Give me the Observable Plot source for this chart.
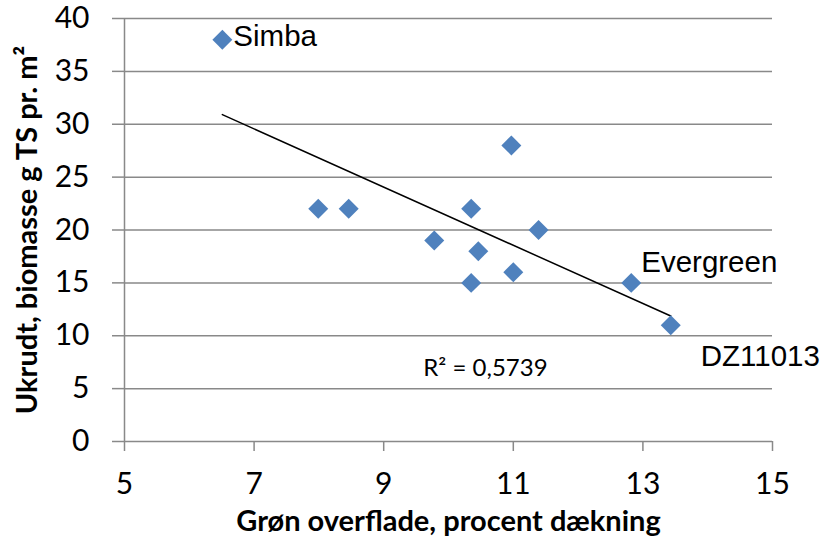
<!DOCTYPE html>
<html><head><meta charset="utf-8">
<script src="https://cdn.jsdelivr.net/npm/d3@7"></script>
<script src="https://cdn.jsdelivr.net/npm/@observablehq/plot@0.6"></script>
<style>body{margin:0;background:#fff} #chart svg{display:block;overflow:visible}</style>
</head><body><div id="chart"></div>
<script>
const cultivars = ["Simba", "", "", "", "", "", "", "", "", "", "Evergreen", "DZ11013"];
const greenCover = [6.51, 7.99, 8.46, 9.78, 10.35, 10.35, 10.46, 10.97, 11.0, 11.39, 12.82, 13.43];
const weedBiomass = [38, 22, 22, 19, 22, 15, 18, 28, 16, 20, 15, 11];
const xTicks = [5, 7, 9, 11, 13, 15];
const yTicks = [0, 5, 10, 15, 20, 25, 30, 35, 40];
const xTitle = "Grøn overflade, procent dækning";
const yTitle = "Ukrudt, biomasse g TS pr. m²";
const r2Label = "R² = 0,5739";
const r2Pos = {x: 10.57, y: 6.9};

const data = cultivars.map((name, i) => ({name, x: greenCover[i], y: weedBiomass[i]}));
const byName = n => data.filter(d => d.name === n);

const gray = "#898989";
const labelFont = "Liberation Sans, Arial, sans-serif";
const chart = Plot.plot({
  width: 824, height: 546,
  marginLeft: 124, marginRight: 52, marginTop: 18, marginBottom: 105,
  style: {fontFamily: "Lato, sans-serif", background: "#fff", overflow: "visible"},
  x: {domain: [5, 15], ticks: xTicks},
  y: {domain: [0, 40], ticks: yTicks},
  marks: [
    Plot.ruleY(yTicks, {stroke: gray, strokeWidth: 1.5}),
    Plot.ruleX([5], {stroke: gray, strokeWidth: 1.5}),
    Plot.axisY({ticks: yTicks, tickSize: 12, tickPadding: 23, stroke: gray, strokeWidth: 1.5, fontSize: 30, label: null, fill: "black"}),
    Plot.axisX({ticks: xTicks, tickSize: 10, tickPadding: 21, stroke: gray, strokeWidth: 1.5, fontSize: 30, label: null, fill: "black"}),
    Plot.linearRegressionY(data, {x: "x", y: "y", stroke: "black", strokeWidth: 1.5, ci: 0}),
    Plot.dot(data, {x: "x", y: "y", symbol: "diamond2", r: 9, fill: "#4F81BD", stroke: "none"}),
    Plot.text(byName("Simba"), {x: "x", y: "y", text: "name", textAnchor: "start", dx: 11, dy: -3, fontSize: 29.5, fontFamily: labelFont, fill: "black"}),
    Plot.text(byName("Evergreen"), {x: "x", y: "y", text: "name", textAnchor: "start", dx: 10, dy: -20, fontSize: 29.5, fontFamily: labelFont, fill: "black"}),
    Plot.text(byName("DZ11013"), {x: "x", y: "y", text: "name", textAnchor: "start", dx: 30, dy: 31, fontSize: 29.5, fontFamily: labelFont, fill: "black"}),
    Plot.text([r2Label], {x: () => r2Pos.x, y: () => r2Pos.y, text: d => d, fontSize: 24, fill: "black"}),
    Plot.text([xTitle], {frameAnchor: "bottom", dx: 0, dy: 89, text: d => d, fontSize: 29, fontWeight: "bold", fill: "black"}),
    Plot.text([yTitle], {frameAnchor: "left", textAnchor: "middle", dx: -97, dy: 0, rotate: -90, text: d => d, fontSize: 29, fontWeight: "bold", fill: "black"})
  ]
});
document.getElementById("chart").appendChild(chart);
</script>
</body></html>
